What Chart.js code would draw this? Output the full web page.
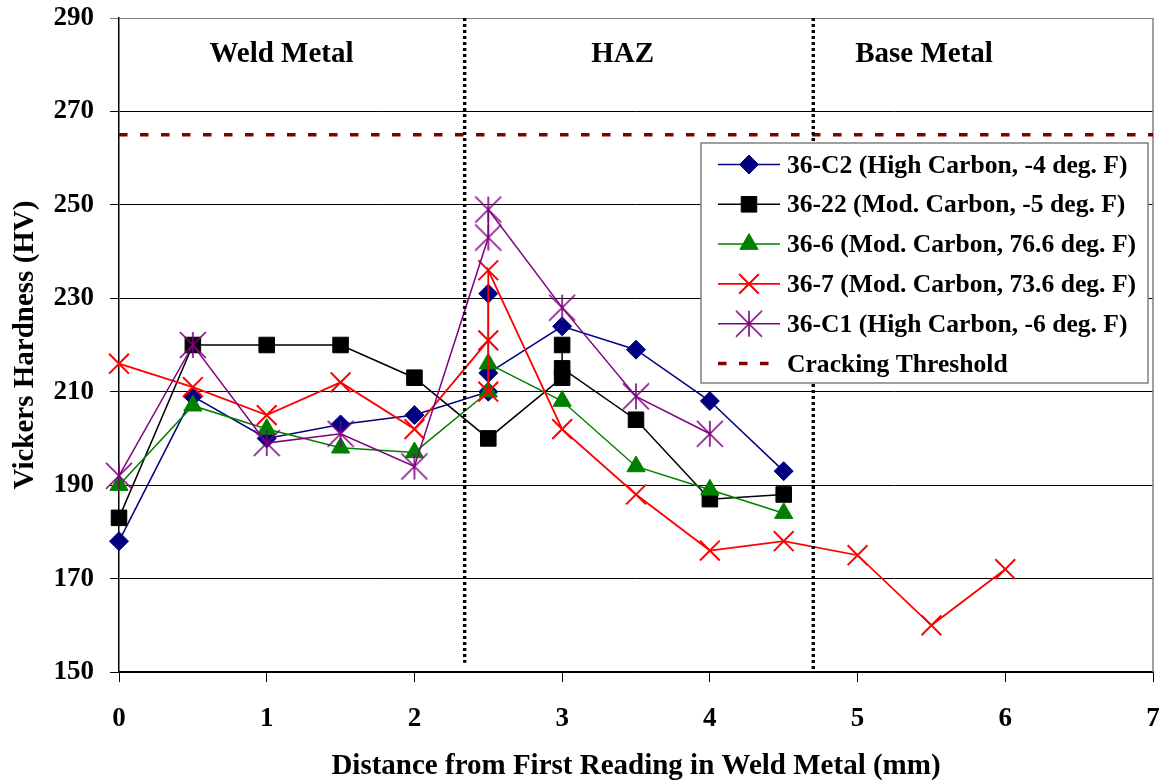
<!DOCTYPE html>
<html>
<head>
<meta charset="utf-8">
<script src="https://cdn.jsdelivr.net/npm/chart.js@4.4.0/dist/chart.umd.min.js"></script>
<style>
html,body{margin:0;padding:0;background:#fff;}
canvas{display:block;}
</style>
</head>
<body>
<canvas id="c" width="1161" height="782"></canvas>
<script>
// ---------------- data ----------------
const xTickValues = [0, 1, 2, 3, 4, 5, 6, 7];
const yTickValues = [150, 170, 190, 210, 230, 250, 270, 290];

const seriesNames = [
  '36-C2 (High Carbon, -4 deg. F)',
  '36-22 (Mod. Carbon, -5 deg. F)',
  '36-6 (Mod. Carbon, 76.6 deg. F)',
  '36-7 (Mod. Carbon, 73.6 deg. F)',
  '36-C1 (High Carbon, -6 deg. F)'
];
const thresholdName = 'Cracking Threshold';

const c2X  = [0, 0.5, 1, 1.5, 2, 2.5, 2.5, 2.5, 3, 3.5, 4, 4.5];
const c2Y  = [178, 209, 200, 203, 205, 210, 231, 214, 224, 219, 208, 193];

const s22X = [0, 0.5, 1, 1.5, 2, 2.5, 3, 3, 3, 3.5, 4, 4.5];
const s22Y = [183, 220, 220, 220, 213, 200, 213, 220, 215, 204, 187, 188];

const s6X  = [0, 0.5, 1, 1.5, 2, 2.5, 2.5, 3, 3.5, 4, 4.5];
const s6Y  = [190, 207, 202, 198, 197, 210, 216, 208, 194, 189, 184];

const s7X  = [0, 0.5, 1, 1.5, 2, 2.5, 2.5, 2.5, 3, 3.5, 4, 4.5, 5, 5.5, 6];
const s7Y  = [216, 211, 205, 212, 202, 221, 210, 236, 202, 188, 176, 178, 175, 160, 172];

const c1X  = [0, 0.5, 1, 1.5, 2, 2.5, 2.5, 3, 3.5, 4];
const c1Y  = [192, 220, 199, 201, 194, 243, 249, 228, 209, 201];

const thresholdX = [0, 7];
const thresholdY = [265, 265];

const zoneLineX      = [2.34, 4.70];
const zoneLineTop    = [290, 290];
const zoneLineBottom = [152, 150.4];

const zoneLabels = ['Weld Metal', 'HAZ', 'Base Metal'];
const zoneLabelX = [1.1, 3.41, 5.45];
const zoneLabelY = [282.1, 282.1, 282.1];

const xAxisTitle = 'Distance from First Reading in Weld Metal (mm)';
const yAxisTitle = 'Vickers Hardness (HV)';

// ---------------- styling ----------------
const FONT = "'Liberation Serif', 'Times New Roman', serif";

function makeStar(color, size, lw) {
  const c = document.createElement('canvas');
  c.width = size; c.height = size;
  const g = c.getContext('2d');
  g.strokeStyle = color; g.lineWidth = lw;
  const h = size / 2, a = h - 1;
  g.beginPath();
  g.moveTo(h - a, h - a); g.lineTo(h + a, h + a);
  g.moveTo(h + a, h - a); g.lineTo(h - a, h + a);
  g.moveTo(h, h - a); g.lineTo(h, h + a);
  g.stroke();
  return c;
}
const starImg = makeStar('#800080', 28, 1.6);

function pts(xs, ys) { return xs.map((x, i) => ({ x: x, y: ys[i] })); }

function series(idx, xs, ys, color, style, radius, pbw, lw) {
  return {
    label: seriesNames[idx],
    data: pts(xs, ys),
    showLine: true,
    borderColor: color,
    backgroundColor: color,
    borderWidth: lw,
    pointStyle: style,
    pointRadius: radius,
    pointHoverRadius: radius,
    pointBackgroundColor: color,
    pointBorderColor: color,
    pointBorderWidth: pbw,
    tension: 0,
    clip: false,
    order: 10 - idx,
    inLegend: true
  };
}

const datasets = [
  series(0, c2X, c2Y, '#000080', 'rectRot', 9.5, 1, 1.5),
  series(1, s22X, s22Y, '#000000', 'rect', 11, 1, 1.5),
  series(2, s6X, s6Y, '#008000', 'triangle', 10.5, 1, 1.5),
  series(3, s7X, s7Y, '#FF0000', 'crossRot', 14, 2, 1.8),
  series(4, c1X, c1Y, '#800080', starImg, 13, 1.6, 1.5),
  {
    label: thresholdName,
    data: pts(thresholdX, thresholdY),
    showLine: true,
    borderColor: '#800000',
    backgroundColor: '#800000',
    borderWidth: 3.5,
    borderDash: [8.5, 12.5],
    borderCapStyle: 'butt',
    pointRadius: 0,
    pointHoverRadius: 0,
    order: 1,
    inLegend: true
  }
];
zoneLineX.forEach((x, i) => {
  datasets.push({
    label: 'zone' + i,
    data: [{ x: x, y: zoneLineTop[i] }, { x: x, y: zoneLineBottom[i] }],
    showLine: true,
    borderColor: '#000000',
    borderWidth: 3.4,
    borderDash: [3, 3],
    borderCapStyle: 'butt',
    pointRadius: 0,
    pointHoverRadius: 0,
    order: 0,
    inLegend: false
  });
});

// ---------------- plugins ----------------
const framePlugin = {
  id: 'frame',
  beforeDatasetsDraw(chart) {
    const { ctx, chartArea: a } = chart;
    ctx.save();
    ctx.strokeStyle = '#808080';
    ctx.lineWidth = 1.5;
    ctx.beginPath();
    ctx.moveTo(a.right, a.top);
    ctx.lineTo(a.right, a.bottom);
    ctx.stroke();
    ctx.restore();
  }
};

const zonePlugin = {
  id: 'zoneLabels',
  afterDatasetsDraw(chart) {
    const { ctx, scales } = chart;
    ctx.save();
    ctx.fillStyle = '#000';
    ctx.font = 'bold 29px ' + FONT;
    ctx.textAlign = 'center';
    ctx.textBaseline = 'middle';
    zoneLabels.forEach((t, i) => {
      ctx.fillText(t, scales.x.getPixelForValue(zoneLabelX[i]), scales.y.getPixelForValue(zoneLabelY[i]));
    });
    ctx.restore();
  }
};

function fallbackPoint(ctx, style, r, x, y) {
  ctx.beginPath();
  if (style === 'rectRot') {
    ctx.moveTo(x - r, y); ctx.lineTo(x, y - r); ctx.lineTo(x + r, y); ctx.lineTo(x, y + r); ctx.closePath();
    ctx.fill(); ctx.stroke();
  } else if (style === 'rect') {
    const s = r * Math.SQRT1_2; ctx.rect(x - s, y - s, 2 * s, 2 * s); ctx.fill(); ctx.stroke();
  } else if (style === 'triangle') {
    ctx.moveTo(x, y - r); ctx.lineTo(x + r * 0.866, y + r / 2); ctx.lineTo(x - r * 0.866, y + r / 2); ctx.closePath();
    ctx.fill(); ctx.stroke();
  } else if (style === 'crossRot') {
    const s = r * Math.SQRT1_2;
    ctx.moveTo(x - s, y - s); ctx.lineTo(x + s, y + s); ctx.moveTo(x + s, y - s); ctx.lineTo(x - s, y + s); ctx.stroke();
  } else if (style && style.width) {
    ctx.drawImage(style, x - style.width / 2, y - style.height / 2);
  }
}

const legendPlugin = {
  id: 'boxLegend',
  afterDatasetsDraw(chart) {
    const ctx = chart.ctx;
    const L = 701, T = 143, R = 1148, B = 383;
    ctx.save();
    ctx.fillStyle = '#ffffff';
    ctx.fillRect(L, T, R - L, B - T);
    ctx.strokeStyle = '#808080';
    ctx.lineWidth = 1.5;
    ctx.strokeRect(L, T, R - L, B - T);
    const items = chart.data.datasets.filter(d => d.inLegend);
    items.forEach((d, i) => {
      const y = 164.5 + i * 39.8;
      ctx.save();
      ctx.strokeStyle = d.borderColor;
      ctx.lineWidth = d.borderWidth;
      ctx.setLineDash(d.borderDash || []);
      ctx.lineCap = 'butt';
      ctx.beginPath();
      ctx.moveTo(718, y);
      ctx.lineTo(780, y);
      ctx.stroke();
      ctx.setLineDash([]);
      if (d.pointRadius > 0) {
        ctx.fillStyle = d.pointBackgroundColor;
        ctx.strokeStyle = d.pointBorderColor;
        ctx.lineWidth = d.pointBorderWidth;
        if (Chart.helpers && Chart.helpers.drawPoint) {
          Chart.helpers.drawPoint(ctx, { pointStyle: d.pointStyle, radius: d.pointRadius, borderWidth: d.pointBorderWidth, rotation: 0 }, 749, y);
        } else {
          fallbackPoint(ctx, d.pointStyle, d.pointRadius, 749, y);
        }
      }
      ctx.restore();
      ctx.fillStyle = '#000';
      ctx.font = 'bold 25.6px ' + FONT;
      ctx.textAlign = 'left';
      ctx.textBaseline = 'middle';
      ctx.fillText(d.label, 787, y + 1.5);
    });
    ctx.restore();
  }
};

function zeroPad(s) { s.paddingTop = 0; s.paddingBottom = 0; s.paddingLeft = 0; s.paddingRight = 0; }

// ---------------- chart ----------------
new Chart(document.getElementById('c'), {
  type: 'scatter',
  data: { datasets: datasets },
  options: {
    responsive: false,
    animation: false,
    events: [],
    layout: { autoPadding: false, padding: { top: 18, right: 8, left: 0, bottom: 0 } },
    plugins: {
      legend: { display: false },
      tooltip: { enabled: false }
    },
    scales: {
      x: {
        type: 'linear',
        min: xTickValues[0],
        max: xTickValues[xTickValues.length - 1],
        afterBuildTicks: s => { s.ticks = xTickValues.map(v => ({ value: v })); },
        afterFit: s => { s.height = 110; zeroPad(s); },
        grid: { drawOnChartArea: false, drawTicks: true, tickLength: 10, color: '#000', lineWidth: 1 },
        border: { display: true, color: '#000', width: 1.5 },
        ticks: { color: '#000', padding: 21, font: { family: FONT, size: 27, weight: 'bold' }, maxRotation: 0, autoSkip: false },
        title: { display: true, text: xAxisTitle, color: '#000', font: { family: FONT, size: 29, weight: 'bold', lineHeight: 1.05 }, padding: { top: 0, bottom: 0 } }
      },
      y: {
        type: 'linear',
        min: yTickValues[0],
        max: yTickValues[yTickValues.length - 1],
        afterBuildTicks: s => { s.ticks = yTickValues.map(v => ({ value: v })); },
        afterFit: s => { s.width = 119; zeroPad(s); },
        grid: {
          drawOnChartArea: true, drawTicks: true, tickLength: 9, lineWidth: 1,
          color: c => (c.tick && c.tick.value === 290) ? '#808080' : '#000'
        },
        border: { display: true, color: '#000', width: 1.5 },
        ticks: { color: '#000', padding: 16, font: { family: FONT, size: 27, weight: 'bold' }, autoSkip: false },
        title: { display: true, text: yAxisTitle, color: '#000', font: { family: FONT, size: 29, weight: 'bold', lineHeight: 1.2 }, padding: { top: 8, bottom: 0 } }
      }
    }
  },
  plugins: [framePlugin, zonePlugin, legendPlugin]
});
</script>
</body>
</html>
